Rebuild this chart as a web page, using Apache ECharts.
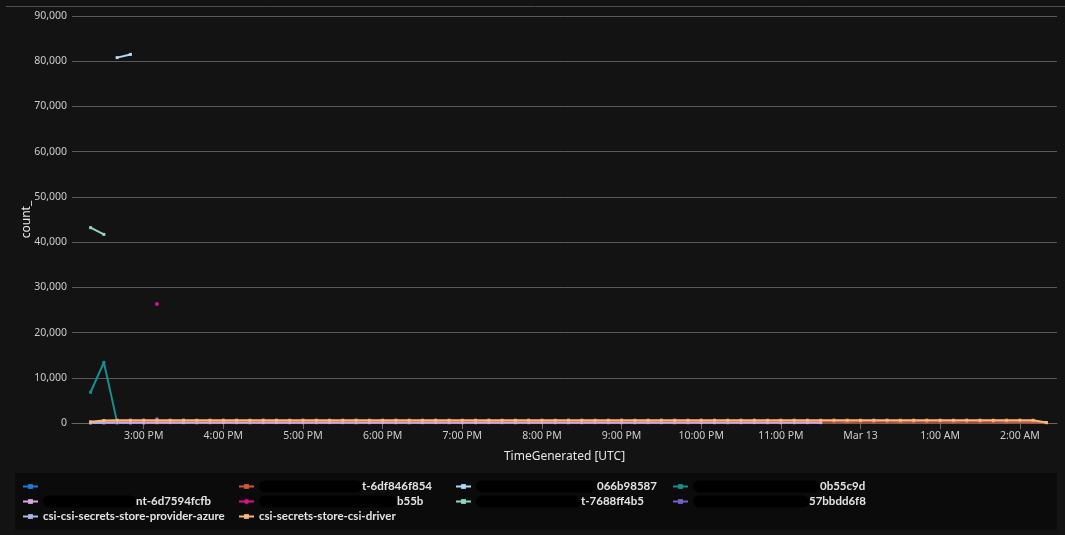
<!DOCTYPE html>
<html>
<head>
<meta charset="utf-8">
<script src="https://cdn.jsdelivr.net/npm/echarts@6/dist/echarts.min.js"></script>
<style>
html,body{margin:0;padding:0;background:#131313;}
#chart{width:1065px;height:535px;}
</style>
</head>
<body>
<div id="chart"></div>
<script>
// ---- data (10-minute buckets from 14:20 Mar 12 to 02:20 Mar 13) ----
const startTime = new Date(2024, 2, 12, 14, 20).getTime();
const stepMs = 10 * 60 * 1000;

const seriesNames = [
  'pod-1', 'pod-6df846f854', 'pod-066b98587', 'pod-0b55c9d', 'pod-6d7594fcfb',
  'pod-b55b', 'pod-7688ff4b5', 'pod-57bbdd6f8',
  'csi-csi-secrets-store-provider-azure', 'csi-secrets-store-csi-driver'
];
// visible parts of the (partly hidden) legend names
const legendSuffix = [
  '', 't-6df846f854', '066b98587', '0b55c9d', 'nt-6d7594fcfb',
  'b55b', 't-7688ff4b5', '57bbdd6f8',
  'csi-csi-secrets-store-provider-azure', 'csi-secrets-store-csi-driver'
];
const seriesColors = [
  '#1f7bd6', '#d9553a', '#b0d8f8', '#13908f', '#d8a8e0',
  '#e0108a', '#8ed8b8', '#7a60c8', '#a8b8e8', '#f8b878'
];

const blueVals = [20, 30, 25, 20, 20];
const redVals = [
  150, 240, 250, 260, 250, 240, 250, 260, 250, 240,
  250, 260, 250, 240, 250, 260, 250, 240, 250, 260,
  250, 240, 250, 260, 250, 240, 250, 260, 250, 240,
  250, 260, 250, 240, 250, 260, 250, 240, 250, 260,
  250, 240, 250, 260, 250, 240, 250, 260, 250, 240,
  250, 260, 250, 240, 250, 260, 250, 240, 250, 260,
  250, 240, 250, 260, 250, 240, 250, 260, 250, 240,
  250, 240, 60
];
const lightBlueVals = [null, null, 80800, 81500];
const tealVals = [6800, 13400, 200];
const lavenderVals = [
  60, 80, 90, 80, 70, 80, 90, 80, 70, 80,
  90, 80, 70, 80, 90, 80, 70, 80, 90, 80,
  70, 80, 90, 80, 70, 80, 90, 80, 70, 80,
  90, 80, 70, 80, 90, 80, 70, 80, 90, 80,
  70, 80, 90, 80, 70, 80, 90, 80, 70, 80,
  90, 80, 70, 80, 90, 80
];
const magentaVals = [null, null, null, null, null, 26300];
const mintVals = [43200, 41700];
const purpleVals = [null, null, null, null, null, 900];
const providerVals = [100, 120];
const driverVals = [
  250, 560, 600, 610, 620, 600, 610, 620, 600, 610,
  620, 610, 600, 620, 610, 600, 620, 610, 600, 610,
  620, 600, 610, 620, 610, 600, 620, 610, 600, 610,
  620, 600, 610, 620, 610, 600, 620, 610, 600, 610,
  620, 600, 610, 620, 610, 600, 620, 610, 600, 610,
  620, 600, 610, 620, 610, 600, 620, 610, 600, 610,
  620, 600, 610, 620, 610, 600, 620, 610, 600, 610,
  620, 600, 100
];
const allVals = [blueVals, redVals, lightBlueVals, tealVals, lavenderVals,
  magentaVals, mintVals, purpleVals, providerVals, driverVals];

const yTicks = { min: 0, max: 90000, interval: 10000 };

// ---- chart ----
const chart = echarts.init(document.getElementById('chart'));
const FONT = '"Noto Sans", "Open Sans", sans-serif';
const LFONT = 'Lato, "Noto Sans", sans-serif';

function toPairs(vals) {
  return vals.map((v, i) => [startTime + i * stepMs, v]);
}

const redactW = [0, 103, 121, 127, 93, 138, 105, 116, 0, 0];
const legendMap = {};
seriesNames.forEach((n, i) => { legendMap[n] = i; });

const richStyles = {
  t: { color: '#e4e4e4', fontSize: 11.5, fontWeight: 'bold', fontFamily: LFONT, lineHeight: 13 }
};
redactW.forEach((w, i) => {
  if (w > 0) richStyles['r' + i] = { width: w, height: 12, backgroundColor: '#000', borderRadius: 6 };
});

const series = seriesNames.map((name, i) => ({
  name: name,
  type: 'line',
  data: toPairs(allVals[i]),
  color: seriesColors[i],
  symbol: i === 5 ? 'circle' : 'rect',
  symbolSize: i === 5 ? 4 : 3,
  showSymbol: true,
  connectNulls: false,
  lineStyle: { width: 2 },
  z: i === 9 ? 5 : 3,
  animation: false
}));

const legendCols = [
  { left: 22, names: [seriesNames[0], seriesNames[4], seriesNames[8]] },
  { left: 238, names: [seriesNames[1], seriesNames[5], seriesNames[9]] },
  { left: 455, names: [seriesNames[2], seriesNames[6]] },
  { left: 672, names: [seriesNames[3], seriesNames[7]] }
];

const legends = legendCols.map(c => ({
  orient: 'vertical',
  left: c.left,
  top: 480.5,
  padding: 0,
  itemWidth: 15,
  itemHeight: 6,
  itemGap: 3,
  formatter: function (name) {
    const i = legendMap[name];
    const r = redactW[i] > 0 ? '{r' + i + '|}' : '';
    return r + '{t|' + (legendSuffix[i] || ' ') + '}';
  },
  textStyle: {
    color: '#e4e4e4',
    fontSize: 11.5,
    fontWeight: 'bold',
    fontFamily: LFONT,
    rich: richStyles
  },
  data: c.names
}));

chart.setOption({
  backgroundColor: '#131313',
  animation: false,
  textStyle: { fontFamily: FONT },
  graphic: [
    { type: 'line', shape: { x1: 6, y1: 6.5, x2: 1065, y2: 6.5 }, style: { stroke: '#4a5058', lineWidth: 1 }, silent: true },
    { type: 'rect', shape: { x: 15, y: 473, width: 1042, height: 57 }, style: { fill: '#0b0b0b' }, silent: true, z: -1 }
  ],
  grid: { left: 72, right: 8, top: 16, bottom: 112, containLabel: false },
  legend: legends,
  xAxis: {
    type: 'time',
    min: new Date(2024, 2, 12, 14, 6).getTime(),
    max: new Date(2024, 2, 13, 2, 28).getTime(),
    minInterval: 3600 * 1000,
    maxInterval: 3600 * 1000,
    name: 'TimeGenerated [UTC]',
    nameLocation: 'middle',
    nameGap: 28,
    nameMoveOverlap: false,
    nameTextStyle: { color: '#e6e6e6', fontSize: 12, fontFamily: FONT },
    axisLine: { show: true, lineStyle: { color: '#666', width: 1 } },
    axisTick: { show: true, length: 6, lineStyle: { color: '#666' } },
    splitLine: { show: false },
    axisLabel: {
      color: '#cccccc',
      fontSize: 10.5,
      margin: 8,
      fontFamily: FONT,
      hideOverlap: false,
      formatter: function (val) {
        const d = new Date(val);
        const h = d.getHours();
        const m = d.getMinutes();
        if (h === 0 && m === 0) return 'Mar 13';
        const hh = h % 12 === 0 ? 12 : h % 12;
        return hh + ':' + (m < 10 ? '0' + m : m) + ' ' + (h < 12 ? 'AM' : 'PM');
      },
      rich: {}
    }
  },
  yAxis: {
    type: 'value',
    min: yTicks.min,
    max: yTicks.max,
    interval: yTicks.interval,
    name: 'count_',
    nameLocation: 'middle',
    nameGap: 39,
    nameMoveOverlap: false,
    nameTextStyle: { color: '#e6e6e6', fontSize: 12, fontFamily: FONT },
    axisLine: { show: false },
    axisTick: { show: false },
    splitLine: { show: true, lineStyle: { color: '#5a5a5a', width: 1 } },
    axisLabel: {
      color: '#cccccc',
      fontSize: 10.5,
      margin: 5,
      fontFamily: FONT,
      formatter: function (v) { return v.toLocaleString('en-US'); }
    }
  },
  series: series
});
</script>
</body>
</html>
